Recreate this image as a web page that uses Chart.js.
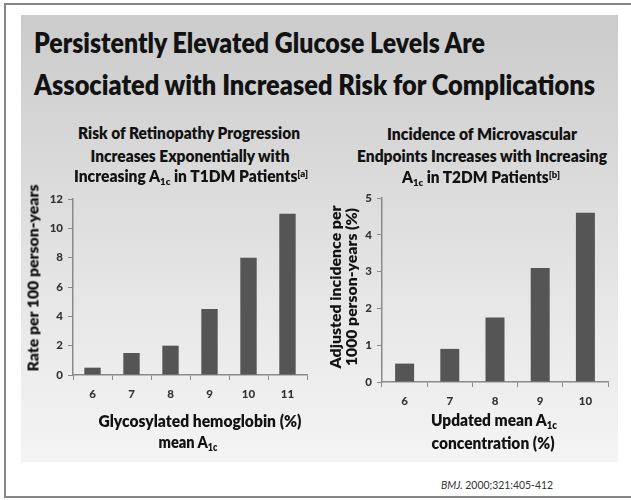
<!DOCTYPE html>
<html>
<head>
<meta charset="utf-8">
<script src="https://cdn.jsdelivr.net/npm/chart.js@4/dist/chart.umd.min.js"></script>
<style>
  html, body { margin: 0; padding: 0; background: #fff; }
  #stage { position: relative; width: 631px; height: 500px; overflow: hidden; background: #fff;
           font-family: Lato, "Open Sans", sans-serif; }
  #frame { position: absolute; left: 4px; top: 3px; width: 660px; height: 495px; box-sizing: border-box;
           border-left: 2px solid #858585; border-top: 2px solid #858585; border-bottom: 2px solid #858585; }
  #panel { position: absolute; left: 21px; top: 15px; width: 597px; height: 447px;
           background: linear-gradient(to bottom, #cbcbcb 0%, #dadada 35%, #e9e9e9 70%, #f4f4f4 100%); }
  canvas { position: absolute; }
  .t { position: absolute; white-space: nowrap; line-height: 1; color: #121212; font-weight: 800; z-index: 5; }
  .main { font-size: 28px; }
  .ct { font-size: 16px; }
  .yt { font-size: 15px; }
  .xt { font-size: 17px; }
  .cite { font-size: 11px; font-weight: 400; color: #333; }
  .sub { position: relative; top: 0.32em; font-size: 0.62em; }
  .sup { position: relative; top: -0.5em; font-size: 0.62em; }
</style>
</head>
<body>
<div id="stage">
  <div id="frame"></div>
  <div id="panel"></div>

  <div class="t main" data-x="34" data-y="42" data-w="451" data-a="l">Persistently Elevated Glucose Levels Are</div>
  <div class="t main" data-x="34" data-y="84" data-w="561" data-a="l">Associated with Increased Risk for Complications</div>

  <div class="t ct" data-x="189" data-y="133" data-w="222">Risk of Retinopathy Progression</div>
  <div class="t ct" data-x="189.5" data-y="155.5" data-w="199">Increases Exponentially with</div>
  <div class="t ct" data-x="191" data-y="175.5" data-w="234">Increasing A<span class="sub">1c</span> in T1DM Patients<span class="sup">[a]</span></div>

  <div class="t ct" data-x="482" data-y="133.5" data-w="190">Incidence of Microvascular</div>
  <div class="t ct" data-x="481.7" data-y="156" data-w="250">Endpoints Increases with Increasing</div>
  <div class="t ct" data-x="481" data-y="176.5" data-w="158">A<span class="sub">1c</span> in T2DM Patients<span class="sup">[b]</span></div>

  <div class="t yt" data-x="33.3" data-y="277.5" data-w="187" data-r="1">Rate per 100 person-years</div>
  <div class="t yt" data-x="335.3" data-y="286.7" data-w="163" data-r="1">Adjusted incidence per</div>
  <div class="t yt" data-x="351" data-y="287" data-w="158" data-r="1">1000 person-years (%)</div>

  <div class="t xt" data-x="199.5" data-y="420" data-w="203">Glycosylated hemoglobin (%)</div>
  <div class="t xt" data-x="187.5" data-y="441" data-w="59">mean A<span class="sub">1c</span></div>
  <div class="t xt" data-x="493.7" data-y="419" data-w="126">Updated mean A<span class="sub">1c</span></div>
  <div class="t xt" data-x="493.4" data-y="442" data-w="123">concentration (%)</div>

  <div class="t cite" data-x="496.7" data-y="484" data-w="112"><i>BMJ.</i> 2000;321:405-412</div>

  <canvas id="leftChart" width="300" height="240" style="left:20px;top:180px;width:300px;height:240px;"></canvas>
  <canvas id="rightChart" width="311" height="240" style="left:320px;top:180px;width:311px;height:240px;"></canvas>
</div>

<script>
// ---- data ----
const leftCategories = ['6', '7', '8', '9', '10', '11'];
const leftValues = [0.5, 1.5, 2, 4.5, 8, 11];
const leftYTicks = [0, 2, 4, 6, 8, 10, 12];

const rightCategories = ['6', '7', '8', '9', '10'];
const rightValues = [0.5, 0.9, 1.75, 3.1, 4.6];
const rightYTicks = [0, 1, 2, 3, 4, 5];

// ---- helpers ----
const AXIS = '#8a8a8a';
const TICKFONT = { family: 'Lato', weight: '900', size: 11.5 };

function makeChart(id, cats, vals, yTicks, box) {
  return new Chart(document.getElementById(id), {
    type: 'bar',
    data: {
      labels: cats,
      datasets: [{ data: vals, backgroundColor: '#555555', borderWidth: 0,
                   barPercentage: 0.42, categoryPercentage: 1 }]
    },
    options: {
      responsive: false, animation: false, devicePixelRatio: 1,
      layout: { padding: { left: 0, right: box.pr, top: box.pt, bottom: 0 } },
      plugins: { legend: { display: false }, tooltip: { enabled: false }, title: { display: false } },
      scales: {
        x: {
          grid: { display: true, drawOnChartArea: false, drawTicks: true, tickLength: 5, color: AXIS, offset: true, lineWidth: 1 },
          border: { display: true, color: AXIS, width: 1.5 },
          ticks: { color: '#333333', font: TICKFONT, padding: 7, maxRotation: 0 },
          afterFit: s => { s.height = box.xh; }
        },
        y: {
          min: yTicks[0], max: yTicks[yTicks.length - 1],
          grid: { display: true, drawOnChartArea: false, drawTicks: true, tickLength: 5, color: AXIS, lineWidth: 1 },
          border: { display: true, color: AXIS, width: 1.5 },
          ticks: { color: '#333333', font: TICKFONT, padding: 5 },
          afterBuildTicks: s => { s.ticks = yTicks.map(v => ({ value: v })); },
          afterFit: s => { s.width = box.yw; }
        }
      }
    }
  });
}

makeChart('leftChart', leftCategories, leftValues, leftYTicks, { pr: 13, pt: 19, yw: 53, xh: 45 });
makeChart('rightChart', rightCategories, rightValues, rightYTicks, { pr: 23, pt: 18, yw: 62, xh: 38 });

function fitText() {
  document.querySelectorAll('.t').forEach(el => {
    el.style.transform = 'none';
    const x = +el.dataset.x, y = +el.dataset.y, w = +el.dataset.w;
    const natural = el.getBoundingClientRect().width;
    const s = w / natural;
    el.style.left = x + 'px';
    el.style.top = y + 'px';
    if (el.dataset.r === '1') {
      el.style.transform = `translate(-50%,-50%) rotate(-90deg) scaleX(${s})`;
    } else if (el.dataset.a === 'l') {
      el.style.transformOrigin = '0 50%';
      el.style.transform = `translateY(-50%) scaleX(${s})`;
    } else {
      el.style.transform = `translate(-50%,-50%) scaleX(${s})`;
    }
  });
}
fitText();
if (document.fonts && document.fonts.ready) document.fonts.ready.then(fitText);
</script>
</body>
</html>
